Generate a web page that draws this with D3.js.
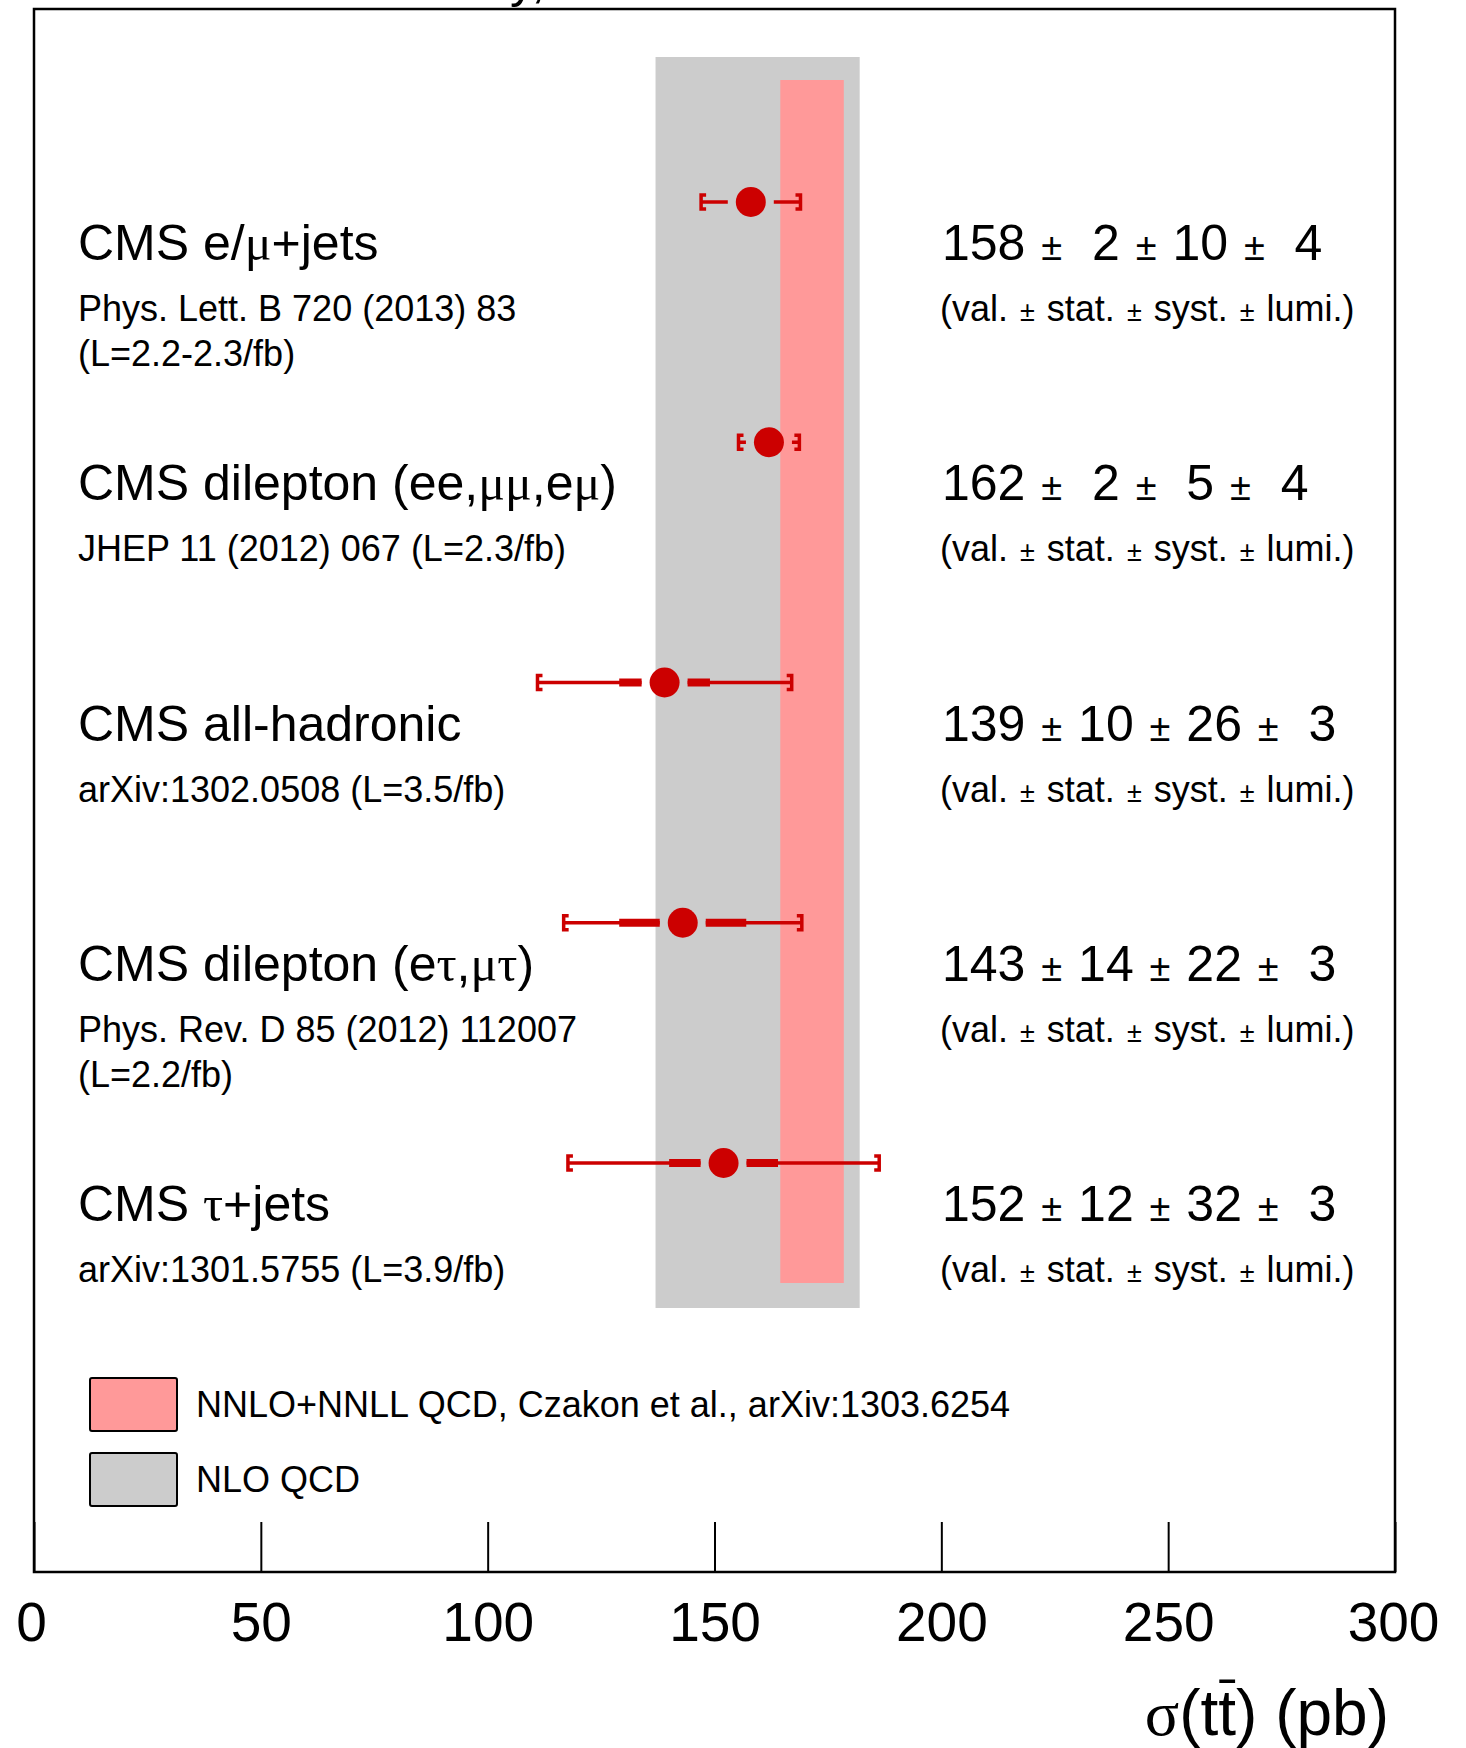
<!DOCTYPE html>
<html>
<head>
<meta charset="utf-8">
<script src="https://cdn.jsdelivr.net/npm/d3@7"></script>
<style>
  html, body { margin: 0; padding: 0; background: #fff; }
  svg { display: block; }
  text { font-family: "Liberation Sans", Arial, Helvetica, sans-serif; fill: #000; }
</style>
</head>
<body>
<div id="chart"></div>
<script>
var W = 1466,
    H = 1748;

// measurements (pb)
var labels = ["CMS e/μ+jets", "CMS dilepton (ee,μμ,eμ)", "CMS all-hadronic", "CMS dilepton (eτ,μτ)", "CMS τ+jets"];
var refs = [
  ["Phys. Lett. B 720 (2013) 83", "(L=2.2-2.3/fb)"],
  ["JHEP 11 (2012) 067 (L=2.3/fb)"],
  ["arXiv:1302.0508 (L=3.5/fb)"],
  ["Phys. Rev. D 85 (2012) 112007", "(L=2.2/fb)"],
  ["arXiv:1301.5755 (L=3.9/fb)"]
];
var values = [158, 162, 139, 143, 152];
var stat   = [2, 2, 10, 14, 12];
var syst   = [10, 5, 26, 22, 32];
var lumi   = [4, 4, 3, 3, 3];

// theory bands
var nloBand  = [137, 182];
var nnloBand = [164.5, 178.5];
var legendLabels = ["NNLO+NNLL QCD, Czakon et al., arXiv:1303.6254", "NLO QCD"];

var xTicks = [0, 50, 100, 150, 200, 250, 300];

var red = "#cc0000",
    pink = "#ff9999",
    grey = "#cccccc";

var frame = {left: 34, right: 1395, top: 9, bottom: 1572};

var x = d3.scaleLinear().domain([0, 300]).range([frame.left, frame.right]);
var y = d3.scalePoint().domain(d3.range(values.length)).range([202, 1163]);

var svg = d3.select("#chart").append("svg")
  .attr("width", W)
  .attr("height", H);

// title, mostly above the page edge
svg.append("text")
  .attr("x", 160)
  .attr("y", -3)
  .attr("font-size", "50px")
  .text("CMS Preliminary, 7 TeV");

// bands
svg.append("rect")
  .attr("x", x(nloBand[0]))
  .attr("y", 57)
  .attr("width", x(nloBand[1]) - x(nloBand[0]))
  .attr("height", 1308 - 57)
  .attr("fill", grey);

svg.append("rect")
  .attr("x", x(nnloBand[0]))
  .attr("y", 80)
  .attr("width", x(nnloBand[1]) - x(nnloBand[0]))
  .attr("height", 1283 - 80)
  .attr("fill", pink);

// greek letters in a serif face, like ROOT's symbol font
function richText(sel, str) {
  var parts = str.split(/([μτ]+)/);
  parts.forEach(function(p) {
    if (!p) return;
    var t = sel.append("tspan").text(p);
    if (/[μτ]/.test(p)) t.style("font-family", "'Liberation Serif', 'DejaVu Serif', serif");
  });
}

var gap = 23; // no error line under the marker

var rows = svg.append("g").selectAll("g")
  .data(values)
  .enter()
  .append("g")
  .attr("transform", function(d, i) { return "translate(0," + y(i) + ")"; });

rows.each(function(v, i) {
  var g = d3.select(this);
  var tot = Math.sqrt(stat[i] * stat[i] + syst[i] * syst[i] + lumi[i] * lumi[i]);
  var cx = x(v);
  var lo = x(v - tot), hi = x(v + tot);
  var slo = x(v - stat[i]), shi = x(v + stat[i]);

  // total error: thin line
  if (lo < cx - gap) g.append("line").attr("x1", lo).attr("x2", cx - gap)
    .attr("stroke", red).attr("stroke-width", 3.5);
  if (hi > cx + gap) g.append("line").attr("x1", cx + gap).attr("x2", hi)
    .attr("stroke", red).attr("stroke-width", 3.5);

  // stat error: thick line
  if (slo < cx - gap) g.append("line").attr("x1", slo).attr("x2", cx - gap)
    .attr("stroke", red).attr("stroke-width", 8);
  if (shi > cx + gap) g.append("line").attr("x1", cx + gap).attr("x2", shi)
    .attr("stroke", red).attr("stroke-width", 8);

  // bracket ends
  g.append("path")
    .attr("d", "M" + (lo + 5) + ",-7H" + lo + "V7H" + (lo + 5))
    .attr("fill", "none").attr("stroke", red).attr("stroke-width", 3.5);
  g.append("path")
    .attr("d", "M" + (hi - 5) + ",-7H" + hi + "V7H" + (hi - 5))
    .attr("fill", "none").attr("stroke", red).attr("stroke-width", 3.5);

  g.append("circle")
    .attr("cx", cx)
    .attr("r", 15)
    .attr("fill", red);

  // labels on the left
  var lab = g.append("text")
    .attr("x", 78)
    .attr("y", 58)
    .attr("font-size", "50px");
  richText(lab, labels[i]);

  refs[i].forEach(function(r, j) {
    g.append("text")
      .attr("x", 78)
      .attr("y", 119 + j * 45)
      .attr("font-size", "36px")
      .text(r);
  });

  // numbers on the right
  function pad(n) { return (n < 10 ? "  " : " ") + n; }
  var num = g.append("text")
    .attr("x", 942)
    .attr("y", 58)
    .attr("font-size", "50px")
    .style("white-space", "pre");
  var pieces = [v + " ", pad(stat[i]) + " ", pad(syst[i]) + " ", pad(lumi[i])];
  pieces.forEach(function(p, k) {
    num.append("tspan").attr("dx", k ? 2 : 0).text(p);
    if (k < pieces.length - 1) num.append("tspan").attr("dx", 2).attr("font-size", "38px").text("±");
  });

  var sub = g.append("text")
    .attr("x", 940)
    .attr("y", 119)
    .attr("font-size", "36px")
    .style("white-space", "pre");
  var subParts = ["(val. ", " stat. ", " syst. ", " lumi.)"];
  subParts.forEach(function(p, k) {
    sub.append("tspan").attr("dx", k ? 2 : 0).text(p);
    if (k < subParts.length - 1) sub.append("tspan").attr("dx", 2).attr("font-size", "27px").text("±");
  });
});

// legend
var legendColors = [pink, grey];
var legend = svg.append("g").attr("transform", "translate(90,1378)");
legend.selectAll("rect")
  .data(legendLabels)
  .enter()
  .append("rect")
  .attr("x", 0)
  .attr("y", function(d, i) { return i * 75; })
  .attr("width", 87)
  .attr("height", 53)
  .attr("rx", 2)
  .attr("fill", function(d, i) { return legendColors[i]; })
  .attr("stroke", "#000")
  .attr("stroke-width", 2);
legend.selectAll("text")
  .data(legendLabels)
  .enter()
  .append("text")
  .attr("x", 106)
  .attr("y", function(d, i) { return i * 75 + 39; })
  .attr("font-size", "36px")
  .text(function(d) { return d; });

// frame
svg.append("rect")
  .attr("x", frame.left)
  .attr("y", frame.top)
  .attr("width", frame.right - frame.left)
  .attr("height", frame.bottom - frame.top)
  .attr("fill", "none")
  .attr("stroke", "#000")
  .attr("stroke-width", 2.5);

// x axis
var axis = svg.append("g")
  .attr("transform", "translate(0," + frame.bottom + ")")
  .call(d3.axisBottom(x).tickValues(xTicks).tickSize(-50).tickPadding(30).tickFormat(d3.format("d")));
axis.select(".domain").remove();
axis.selectAll(".tick line")
  .attr("stroke", "#000")
  .attr("stroke-width", 2);
axis.selectAll(".tick text")
  .attr("font-size", "55px")
  .attr("font-family", "'Liberation Sans', Arial, sans-serif")
  .attr("fill", "#000")
  .attr("dx", function(d) { return d === 0 ? -3 : (d === 300 ? -2 : 0); });

// axis title: sigma(t tbar) (pb)
var tSize = 64;
var title = svg.append("text")
  .attr("x", 1389)
  .attr("y", 1735)
  .attr("text-anchor", "end")
  .attr("font-size", tSize + "px");
title.append("tspan").style("font-family", "'Liberation Serif', serif").text("σ");
title.append("tspan").text("(tt) (pb)");
// bar over the second t (character index 3 in the whole string)
var ext = title.node().getExtentOfChar(3);
svg.append("line")
  .attr("x1", ext.x + 1)
  .attr("x2", ext.x + ext.width - 1)
  .attr("y1", 1735 - 0.84 * tSize)
  .attr("y2", 1735 - 0.84 * tSize)
  .attr("stroke", "#000")
  .attr("stroke-width", 3.5);
</script>
</body>
</html>
